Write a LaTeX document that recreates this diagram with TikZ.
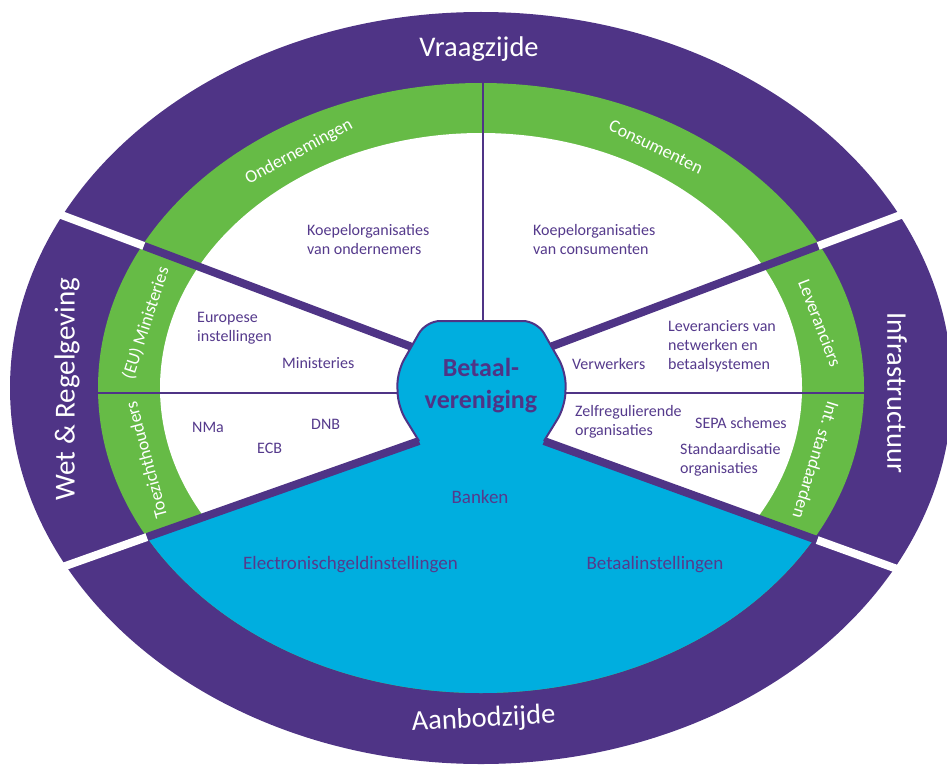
\documentclass[tikz,border=0pt]{standalone}
\usepackage{fontspec}
\setmainfont{Carlito}
\definecolor{vpurple}{HTML}{4F3486}
\definecolor{vgreen}{HTML}{66BB46}
\definecolor{vblue}{HTML}{00AEDF}
\definecolor{vtext}{HTML}{553A8C}
\begin{document}
\begin{tikzpicture}[x=1pt,y=-1pt,
  bandlabel/.style={text=white,font=\fontsize{28.5}{30}\selectfont,inner sep=0pt},
  ringlabel/.style={text=white,font=\fontsize{18}{20}\selectfont,inner sep=0pt},
  lbl/.style={text=vtext,font=\fontsize{16}{19}\selectfont,inner sep=0pt,align=left,anchor=base west},
  blbl/.style={text=vtext,font=\fontsize{19}{22}\selectfont,inner sep=0pt,anchor=base},
  divider/.style={draw=vpurple,line width=8pt},
  thinline/.style={draw=vpurple,line width=2.5pt},
  gapline/.style={draw=white,line width=8pt}
]
\useasboundingbox (0,0) rectangle (947,765);
\coordinate (C) at (481,388);
% rings
\fill[vpurple] (C) ellipse [x radius=471pt, y radius=376pt];
\fill[vgreen] (C) ellipse [x radius=383pt, y radius=305pt];
\fill[white] (C) ellipse [x radius=321pt, y radius=255pt];
% blue sector
\begin{scope}
  \clip (C) ellipse [x radius=383pt, y radius=305pt];
  \fill[vblue] (419,441) -- (60,568) -- (60,780) -- (910,780) -- (910,574) -- (544,441) -- cycle;
\end{scope}
% divider coordinates
\coordinate (hTL) at (420,350); \coordinate (gTL) at (144,246); \coordinate (oTL) at (40,207);
\coordinate (hTR) at (542,350); \coordinate (gTR) at (818,246); \coordinate (oTR) at (922,207);
\coordinate (hBL) at (419,441); \coordinate (gBL) at (147,537); \coordinate (oBL) at (40,575);
\coordinate (hBR) at (544,441); \coordinate (gBR) at (817,540); \coordinate (oBR) at (922,578);
\coordinate (gL) at (98,393); \coordinate (hL) at (405,393);
\coordinate (gR) at (865,393); \coordinate (hR) at (558,393);
\coordinate (gT) at (483,83); \coordinate (hT) at (483,330);
% white gaps in outer band
\draw[gapline] (oTL) -- (gTL);
\draw[gapline] (oTR) -- (gTR);
\draw[gapline] (oBL) -- (gBL);
\draw[gapline] (oBR) -- (gBR);
% purple dividers
\draw[divider] (gTL) -- (hTL);
\draw[divider] (gTR) -- (hTR);
\draw[divider] (gBL) -- (hBL);
\draw[divider] (gBR) -- (hBR);
\draw[thinline] (gL) -- (hL);
\draw[thinline] (gR) -- (hR);
\draw[thinline] (gT) -- (hT);
% central shape
\filldraw[fill=vblue, draw=vpurple, line width=2pt, rounded corners=14pt]
  (419,441) -- (398,407) -- (397,372) -- (426,321) -- (537,321) -- (566,372) -- (565,407) -- (544,441);
\node[text=vpurple,font=\fontsize{26}{32}\selectfont\bfseries,inner sep=0pt,align=center,anchor=base] (bv) at (481,408) {Betaal-\\vereniging};
% outer band labels
\node[bandlabel,anchor=base] (vraag) at (479,57) {Vraagzijde};
\node[bandlabel,anchor=base,rotate=3] (aanbod) at (484,727) {Aanbodzijde};
\node[bandlabel,rotate=90,font=\fontsize{29}{30}\selectfont] (wet) at (67,389) {Wet \& Regelgeving};
\node[bandlabel,rotate=-90] (infra) at (897,393) {Infrastructuur};
% green ring labels
\node[ringlabel,rotate=28.5] (ond) at (299,152) {Ondernemingen};
\node[ringlabel,rotate=-26] (cons) at (656,147) {Consumenten};
\node[ringlabel,rotate=72] (eumin) at (146,323) {(EU) Ministeries};
\node[ringlabel,rotate=105] (toez) at (146,460) {Toezichthouders};
\node[ringlabel,rotate=-69] (lev) at (820,323) {Leveranciers};
\node[ringlabel,rotate=-107] (intst) at (816,460) {Int. standaarden};
% inner labels (anchor = baseline of last line)
\node[lbl] (ko) at (307,254) {Koepelorganisaties\\van ondernemers};
\node[lbl] (kc) at (533,254) {Koepelorganisaties\\van consumenten};
\node[lbl] (eui) at (197,341) {Europese\\instellingen};
\node[lbl] (min) at (282,368) {Ministeries};
\node[lbl] (nma) at (192,432) {NMa};
\node[lbl] (ecb) at (257,453) {ECB};
\node[lbl] (dnb) at (311,429) {DNB};
\node[lbl] (verw) at (572,369) {Verwerkers};
\node[lbl] (levn) at (668,369) {Leveranciers van\\netwerken en\\betaalsystemen};
\node[lbl] (zelf) at (575,435) {Zelfregulierende\\organisaties};
\node[lbl] (sepa) at (695,428) {SEPA schemes};
\node[lbl] (stand) at (680,473) {Standaardisatie\\organisaties};
\node[blbl] (bank) at (480,503) {Banken};
\node[blbl] (egi) at (350.5,569) {Electronischgeldinstellingen};
\node[blbl] (bi) at (655,569) {Betaalinstellingen};
\end{tikzpicture}
\end{document}
